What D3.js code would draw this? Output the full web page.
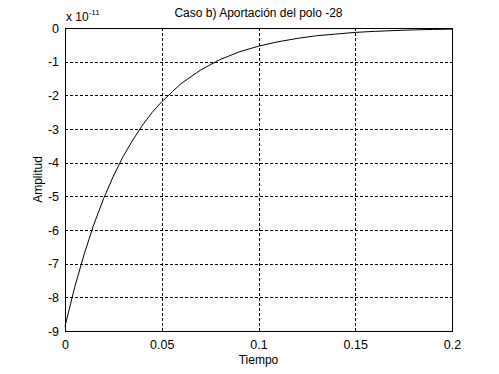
<!DOCTYPE html>
<html><head><meta charset="utf-8">
<script src="https://cdn.jsdelivr.net/npm/d3@7"></script>
<style>
body{margin:0;background:#fff;}
text{font-family:"Liberation Sans",Arial,Helvetica,sans-serif;fill:#000;}
</style></head>
<body>
<svg id="chart" width="499" height="374"></svg>
<script>
// Time samples (s) and amplitude (x 1e-11)
const tiempo = [0,0.005,0.01,0.015,0.02,0.025,0.03,0.035,0.04,0.045,0.05,0.06,0.07,0.08,0.09,0.1,0.11,0.12,0.13,0.14,0.15,0.16,0.17,0.18,0.19,0.2];
const amplitud = [-8.86,-7.70,-6.70,-5.82,-5.06,-4.40,-3.82,-3.33,-2.89,-2.51,-2.19,-1.65,-1.25,-0.94,-0.71,-0.54,-0.41,-0.31,-0.23,-0.18,-0.13,-0.10,-0.076,-0.057,-0.043,-0.033];
const xTicks = [0,0.05,0.1,0.15,0.2];
const xTickLabels = ["0","0.05","0.1","0.15","0.2"];
const yTicks = [0,-1,-2,-3,-4,-5,-6,-7,-8,-9];
const yTickLabels = ["0","-1","-2","-3","-4","-5","-6","-7","-8","-9"];
const title = "Caso b) Aportación del polo -28";
const xLabel = "Tiempo";
const yLabel = "Amplitud";

const svg = d3.select("#chart");
const L = 65, R = 452, T = 28, B = 331;
const x = d3.scaleLinear().domain([0,0.2]).range([L,R]);
const y = d3.scaleLinear().domain([-9,0]).range([B,T]);

const g = svg.append("g");
// grid
g.selectAll(".vg").data(xTicks.slice(1,-1)).enter().append("line")
  .attr("x1",d=>Math.round(x(d))+0.5).attr("x2",d=>Math.round(x(d))+0.5)
  .attr("y1",T).attr("y2",B)
  .attr("stroke","#000").attr("stroke-width",1).attr("stroke-dasharray","3,2")
  .attr("shape-rendering","crispEdges");
g.selectAll(".hg").data(yTicks.slice(1,-1)).enter().append("line")
  .attr("y1",d=>Math.round(y(d))+0.5).attr("y2",d=>Math.round(y(d))+0.5)
  .attr("x1",L).attr("x2",R)
  .attr("stroke","#000").attr("stroke-width",1).attr("stroke-dasharray","3,2")
  .attr("shape-rendering","crispEdges");

// curve
const line = d3.line().x((d,i)=>x(tiempo[i])).y(d=>y(d));
g.append("path").datum(amplitud).attr("d",line)
  .attr("fill","none").attr("stroke","#000").attr("stroke-width",1);

// frame
g.append("rect").attr("x",L+0.5).attr("y",T+0.5).attr("width",R-L).attr("height",B-T)
  .attr("fill","none").attr("stroke","#000").attr("stroke-width",1)
  .attr("shape-rendering","crispEdges");

// x axis labels
const xa = d3.axisBottom(x).tickValues(xTicks).tickFormat((d,i)=>xTickLabels[i]).tickSize(0).tickPadding(9);
const xg = svg.append("g").attr("transform",`translate(0,${B})`).call(xa);
xg.select(".domain").remove();
xg.selectAll("text").attr("font-size","12.5px").attr("font-family","Liberation Sans, Arial, sans-serif");

const ya = d3.axisLeft(y).tickValues(yTicks).tickFormat((d,i)=>yTickLabels[i]).tickSize(0).tickPadding(6);
const yg = svg.append("g").attr("transform",`translate(${L},0)`).call(ya);
yg.select(".domain").remove();
yg.selectAll("text").attr("font-size","12.5px").attr("font-family","Liberation Sans, Arial, sans-serif");

// exponent
const ex = svg.append("text").attr("x",66).attr("y",21).attr("font-size","12px");
ex.append("tspan").text("x 10");
ex.append("tspan").attr("dy",-6).attr("font-size","8px").text("-11");

// title
svg.append("text").attr("x",(L+R)/2).attr("y",17).attr("text-anchor","middle")
  .attr("font-size","12px").text(title);
// x label
svg.append("text").attr("x",(L+R)/2).attr("y",364).attr("text-anchor","middle")
  .attr("font-size","12px").text(xLabel);
// y label
svg.append("text").attr("transform",`translate(42,${(T+B)/2}) rotate(-90)`).attr("text-anchor","middle")
  .attr("font-size","12px").text(yLabel);
</script>
</body></html>
